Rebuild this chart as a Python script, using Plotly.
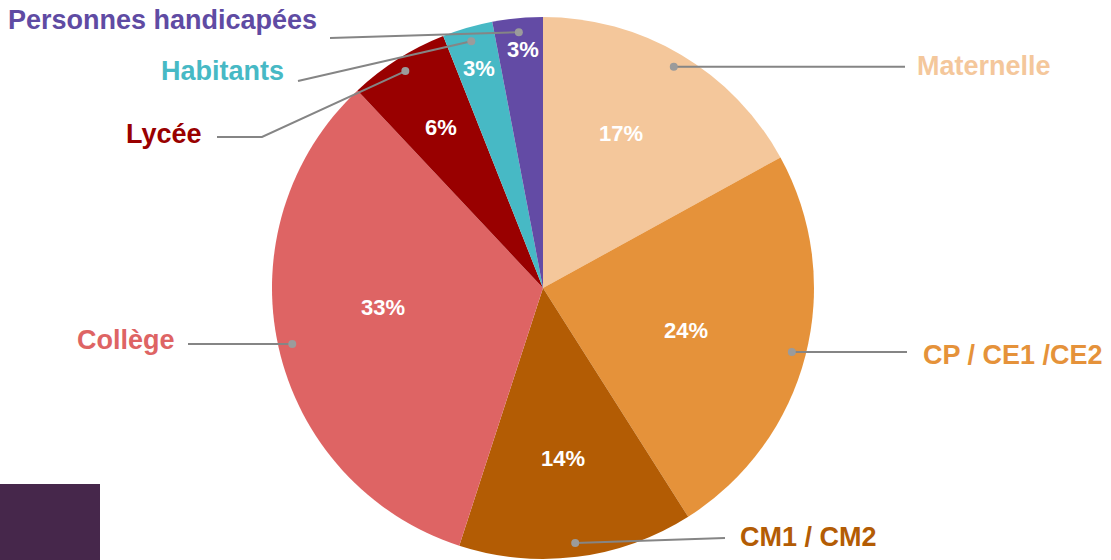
import math
import plotly.graph_objects as go

# data
categories = ["Maternelle", "CP / CE1 /CE2", "CM1 / CM2", "Collège", "Lycée",
              "Habitants", "Personnes handicapées"]
values = [17, 24, 14, 33, 6, 3, 3]
colors = ["#F4C79B", "#E5923A", "#B35C04", "#DE6464", "#990000",
          "#47B9C5", "#634BA5"]
label_colors = ["#F4C79B", "#E5923A", "#B35C04", "#DE6464", "#990000",
                "#47B9C5", "#5F4BA3"]

W, H = 1111, 560
CX, CY, R = 543, 288, 271      # pie centre / radius in pixels
DOT_R = 0.948                  # leader dot, fraction of radius

# percentage text: fraction of radius, angle shift (deg) from slice middle
pct_pos = [(0.638, -3.9), (0.551, 2.3), (0.635, 0.5), (0.595, 5.5),
           (0.70, 0.0), (0.842, 0.0), (0.885, 0.6)]

# label placement: text x, text y, anchor, line path from the label side (pixels)
label_pos = [
    (915, 66, "left", [(905, None)]),
    (921, 355, "left", [(907, None)]),
    (738, 537, "left", [(725, 538)]),
    (177, 340, "right", [(188, None)]),
    (204, 134, "right", [(217, 137), (262, 137)]),
    (286, 71, "right", [(298, 81)]),
    (319, 20, "right", [(330, 38)]),
]


def px(x):
    return x / W


def py(y):
    return 1 - y / H


fig = go.Figure()
fig.add_trace(go.Pie(
    labels=categories, values=values, sort=False, direction="clockwise",
    rotation=0, marker=dict(colors=colors, line=dict(width=0)),
    textinfo="none",
    domain=dict(x=[px(CX - R), px(CX + R)], y=[py(CY + R), py(CY - R)]),
    showlegend=False, hoverinfo="label+percent",
))

shapes = [dict(type="rect", xref="paper", yref="paper", x0=px(0), x1=px(100),
               y0=py(560), y1=py(484), fillcolor="#46274B", line=dict(width=0), layer="below")]
annotations = []

total = sum(values)
cum = 0
for name, v, col, (tx, ty, anchor, path), (pr, pa) in zip(
        categories, values, label_colors, label_pos, pct_pos):
    mid = (cum + v / 2) / total * 2 * math.pi
    cum += v

    # percentage inside the slice
    a = mid + math.radians(pa)
    annotations.append(dict(
        x=px(CX + pr * R * math.sin(a)), y=py(CY - pr * R * math.cos(a)),
        xref="paper", yref="paper", text=f"{v / total:.0%}", showarrow=False,
        xanchor="center", yanchor="middle",
        font=dict(family="Liberation Sans", size=22, color="white", weight="bold")))

    # leader line + dot
    dx = CX + DOT_R * R * math.sin(mid)
    dy = CY - DOT_R * R * math.cos(mid)
    pts = [(x, dy if y is None else y) for x, y in path] + [(dx, dy)]
    d = "M " + " L ".join(f"{px(x)},{py(y)}" for x, y in pts)
    shapes.append(dict(type="path", xref="paper", yref="paper", path=d,
                       line=dict(color="#858585", width=2), layer="above"))
    shapes.append(dict(type="circle", xref="paper", yref="paper",
                       xsizemode="pixel", ysizemode="pixel",
                       xanchor=px(dx), yanchor=py(dy), x0=-4, x1=4, y0=-4, y1=4,
                       fillcolor="#9B9B9B", line=dict(width=0), layer="above"))

    # category label
    annotations.append(dict(
        x=px(tx), y=py(ty), xref="paper", yref="paper", text=name,
        showarrow=False, xanchor=anchor, yanchor="middle",
        font=dict(family="Liberation Sans", size=27, color=col, weight="bold")))

fig.update_layout(
    width=W, height=H, margin=dict(l=0, r=0, t=0, b=0),
    paper_bgcolor="white", plot_bgcolor="white",
    shapes=shapes, annotations=annotations,
)
# drop the default page margin so the figure fills the window
fig.write_html("out.html", config={"displayModeBar": False},
               post_script="document.body.style.margin = '0px';")
